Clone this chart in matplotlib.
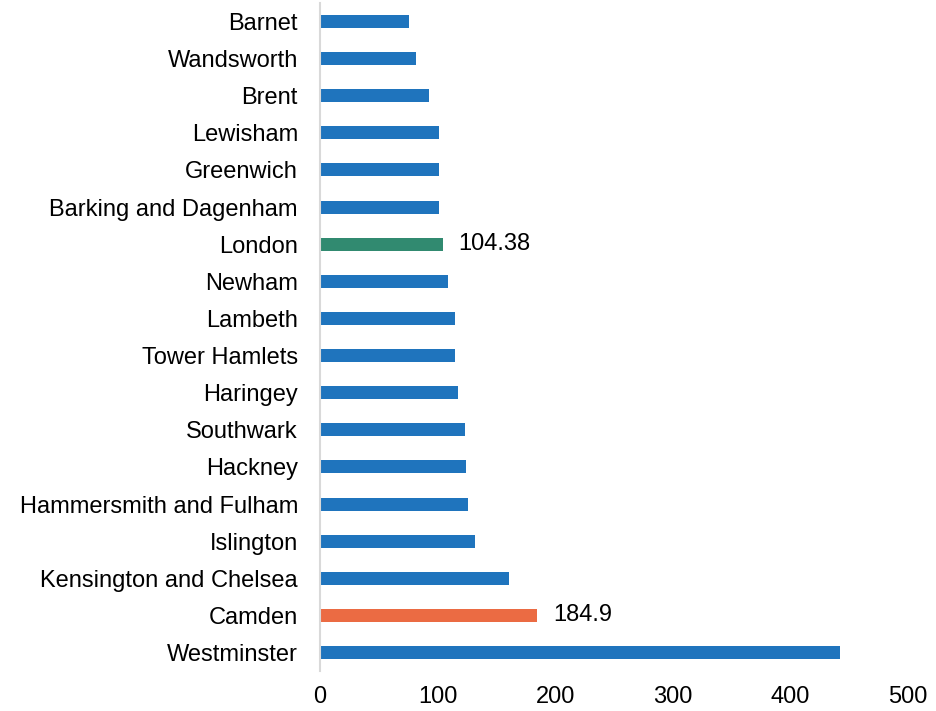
import matplotlib.pyplot as plt

plt.rcParams['font.family'] = ['Liberation Sans', 'DejaVu Sans']

# dane (od góry do dołu)
gminy = ["Barnet", "Wandsworth", "Brent", "Lewisham", "Greenwich",
         "Barking and Dagenham", "London", "Newham", "Lambeth", "Tower Hamlets",
         "Haringey", "Southwark", "Hackney", "Hammersmith and Fulham",
         "Islington", "Kensington and Chelsea", "Camden", "Westminster"]
wartosci = [75.2, 81.4, 92.4, 100.9, 101.2, 101.2, 104.38, 109.1, 114.8, 115.0,
            117.0, 123.0, 124.1, 125.5, 132.0, 160.9, 184.9, 442.5]
etykiety = {"London": "104.38", "Camden": "184.9"}

niebieski = "#1f74bd"
kolory = {"London": "#318a70", "Camden": "#eb6b43"}

fig = plt.figure(figsize=(9.36, 7.11), dpi=100)
ax = fig.add_axes([0.342, 0.056, 0.628, 0.94])

n = len(gminy)
pozycje = [n - 1 - i for i in range(n)]
for g, v, y in zip(gminy, wartosci, pozycje):
    ax.barh(y, v, height=0.35, color=kolory.get(g, niebieski))
    if g in etykiety:
        ax.text(v + 13, y, etykiety[g], va='center', ha='left', fontsize=17)

ax.set_yticks(pozycje)
ax.set_yticklabels(gminy, fontsize=17)
ax.set_ylim(-0.5, n - 0.5)
ax.set_xlim(0, 500)
ax.set_xticks([0, 100, 200, 300, 400, 500])
ax.tick_params(axis='x', labelsize=17, length=0, pad=11)
ax.tick_params(axis='y', length=0, pad=16)

for s in ['top', 'right', 'bottom']:
    ax.spines[s].set_visible(False)
ax.spines['left'].set_color('#d9d9d9')
ax.spines['left'].set_linewidth(1.5)

fig.savefig("out.png", dpi=100)
